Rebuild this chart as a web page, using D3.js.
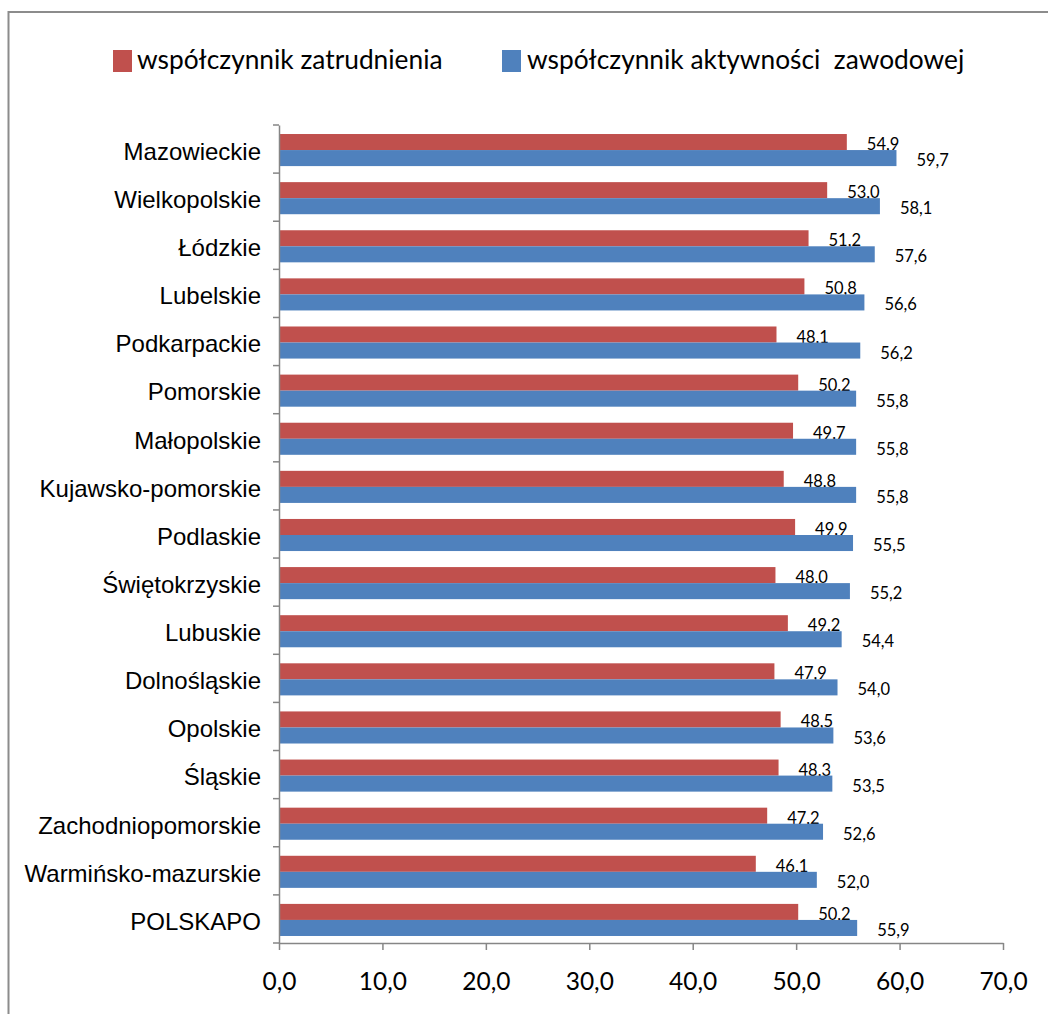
<!DOCTYPE html>
<html>
<head>
<meta charset="utf-8">
<script src="https://cdn.jsdelivr.net/npm/d3@7"></script>
<style>
  html, body { margin: 0; padding: 0; background: #fff; }
  svg { display: block; }
</style>
</head>
<body>
<script>
const categories = ["Mazowieckie","Wielkopolskie","Łódzkie","Lubelskie","Podkarpackie","Pomorskie","Małopolskie","Kujawsko-pomorskie","Podlaskie","Świętokrzyskie","Lubuskie","Dolnośląskie","Opolskie","Śląskie","Zachodniopomorskie","Warmińsko-mazurskie","POLSKAPO"];
const zatrudnienia = [54.9,53.0,51.2,50.8,48.1,50.2,49.7,48.8,49.9,48.0,49.2,47.9,48.5,48.3,47.2,46.1,50.2];
const aktywnosci = [59.7,58.1,57.6,56.6,56.2,55.8,55.8,55.8,55.5,55.2,54.4,54.0,53.6,53.5,52.6,52.0,55.9];
const seriesNames = ["współczynnik zatrudnienia","współczynnik aktywności  zawodowej"];
const seriesColors = ["#C0504D","#4F81BD"];
const xTicks = [0,10,20,30,40,50,60,70];

const W = 1048, H = 1014;
const svg = d3.select("body").append("svg").attr("width", W).attr("height", H);

// outer chart border
svg.append("rect").attr("x", 8.5).attr("y", 12).attr("width", W + 10).attr("height", H + 10)
  .attr("fill", "none").attr("stroke", "#8c8c8c").attr("stroke-width", 2);

const calibri = "Lato, 'Liberation Sans Narrow', sans-serif";
const arial = "'Liberation Sans', Arial, sans-serif";

const x = d3.scaleLinear().domain([0, 70]).range([279, 1003]);
const y = d3.scaleBand().domain(categories).range([125, 943]).padding(0);
const sub = d3.scaleBand().domain([0, 1]).range([1, y.bandwidth() + 1]).paddingInner(0).paddingOuter(0.5);

const data = [zatrudnienia, aktywnosci];

// bars
data.forEach((vals, si) => {
  const g = svg.append("g");
  g.selectAll("rect").data(categories).join("rect")
    .attr("x", x(0))
    .attr("y", c => y(c) + sub(si))
    .attr("width", (c, i) => x(vals[i]) - x(0))
    .attr("height", sub.bandwidth())
    .attr("fill", seriesColors[si]);
  g.selectAll("text").data(categories).join("text")
    .attr("x", (c, i) => x(vals[i]) + 20)
    .attr("y", c => y(c) + sub(si) + sub.bandwidth())
    .attr("font-family", calibri)
    .attr("font-size", 16.5)
    .attr("fill", "#000")
    .text((c, i) => d3.format(".1f")(vals[i]).replace(".", ","));
});

// y axis
const yAxis = d3.axisLeft(y).tickSize(0).tickFormat(d => d);
const gy = svg.append("g").attr("transform", `translate(${x(0)},0)`).call(yAxis);
gy.select(".domain").attr("stroke", "#868686").attr("stroke-width", 1.5);
gy.selectAll(".tick text")
  .attr("x", -18).attr("dy", "0.45em")
  .attr("font-family", arial).attr("font-size", 24).attr("fill", "#000");
// band boundary ticks
const bounds = categories.map(c => y(c)).concat([y.range()[1]]);
svg.append("g").selectAll("line").data(bounds).join("line")
  .attr("x1", x(0) - 6).attr("x2", x(0))
  .attr("y1", d => d).attr("y2", d => d)
  .attr("stroke", "#868686").attr("stroke-width", 1.5);

// x axis
const xAxis = d3.axisBottom(x).tickValues(xTicks).tickSize(7).tickSizeOuter(0)
  .tickFormat(d => d3.format(".1f")(d).replace(".", ","));
const gx = svg.append("g").attr("transform", `translate(0,943)`).call(xAxis);
gx.select(".domain").attr("stroke", "#868686").attr("stroke-width", 1.5);
gx.selectAll(".tick line").attr("stroke", "#868686").attr("stroke-width", 1.5);
gx.selectAll(".tick text").attr("y", 47).attr("dy", 0)
  .attr("font-family", calibri).attr("font-size", 24.5).attr("fill", "#000");

// legend
const legendItems = [
  { x: 113, tx: 137, name: seriesNames[0], color: seriesColors[0] },
  { x: 502, tx: 527, name: seriesNames[1], color: seriesColors[1] }
];
const lg = svg.append("g");
legendItems.forEach(it => {
  lg.append("rect").attr("x", it.x).attr("y", 50).attr("width", 19).attr("height", 22).attr("fill", it.color);
  lg.append("text").attr("x", it.tx).attr("y", 69)
    .attr("font-family", calibri).attr("font-size", 26.3).attr("fill", "#000")
    .style("white-space", "pre").attr("xml:space", "preserve")
    .text(it.name);
});
</script>
</body>
</html>
